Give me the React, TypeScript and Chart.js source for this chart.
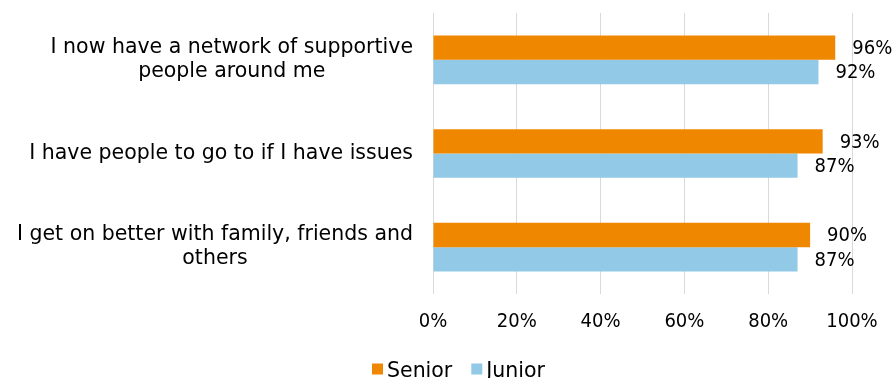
import React, { useEffect, useRef } from "react";
import { Chart, registerables } from "chart.js";

Chart.register(...registerables);

const categories: string[][] = [
  ["I now have a network of supportive", "people around me"],
  ["I have people to go to if I have issues"],
  ["I get on better with family, friends and", "others"],
];
const seriesNames = ["Senior", "Junior"];
const seniorValues = [96, 93, 90];
const juniorValues = [92, 87, 87];
const xTicks = [0, 20, 40, 60, 80, 100];

const ORANGE = "#F08700";
const BLUE = "#91C9E7";
const TEXT_FONT = "20.5px 'DejaVu Sans'";
const NUM_FAMILY = "'DejaVu Sans Condensed', 'DejaVu Sans'";
const NUM_FONT = "20px " + NUM_FAMILY;

const labelsPlugin = {
  id: "customLabels",
  afterDraw(chart: any) {
    const ctx = chart.ctx;
    const area = chart.chartArea;
    const yScale = chart.scales.y;
    ctx.save();
    ctx.fillStyle = "#000";
    ctx.font = TEXT_FONT;
    categories.forEach((lines, i) => {
      const cy = yScale.getPixelForValue(i);
      const w = Math.max(...lines.map((l) => ctx.measureText(l).width));
      const cx = area.left - 20 - w / 2;
      const lh = 24;
      ctx.textAlign = "center";
      ctx.textBaseline = "middle";
      lines.forEach((l, j) => {
        const y = cy + (j - (lines.length - 1) / 2) * lh;
        ctx.fillText(l, cx, y);
      });
    });
    ctx.font = NUM_FONT;
    chart.data.datasets.forEach((ds: any, di: number) => {
      const meta = chart.getDatasetMeta(di);
      meta.data.forEach((bar: any, i: number) => {
        ctx.textAlign = "left";
        ctx.textBaseline = "middle";
        ctx.fillText(ds.data[i] + "%", bar.x + 17, bar.y + 1);
      });
    });
    ctx.font = TEXT_FONT;
    let x = 372;
    const boxTop = 363.5;
    chart.data.datasets.forEach((ds: any) => {
      ctx.fillStyle = ds.backgroundColor;
      ctx.fillRect(x, boxTop, 11, 11);
      ctx.fillStyle = "#000";
      ctx.textAlign = "left";
      ctx.textBaseline = "alphabetic";
      ctx.fillText(ds.label, x + 15, 376.5);
      x += 15 + ctx.measureText(ds.label).width + 19;
    });
    ctx.restore();
  },
};

export default function App() {
  const ref = useRef<HTMLCanvasElement | null>(null);
  useEffect(() => {
    if (!ref.current) return;
    const chart = new Chart(ref.current, {
      type: "bar",
      data: {
        labels: categories.map((c) => c.join(" ")),
        datasets: [
          {
            label: seriesNames[0],
            data: seniorValues,
            backgroundColor: ORANGE,
            categoryPercentage: 0.52,
            barPercentage: 1,
          },
          {
            label: seriesNames[1],
            data: juniorValues,
            backgroundColor: BLUE,
            categoryPercentage: 0.52,
            barPercentage: 1,
          },
        ],
      },
      options: {
        indexAxis: "y",
        animation: false,
        responsive: true,
        maintainAspectRatio: false,
        layout: { padding: { left: 433, right: 43, top: 13, bottom: 28 } },
        plugins: {
          legend: { display: false },
          tooltip: { enabled: false },
        },
        scales: {
          y: { display: false },
          x: {
            min: 0,
            max: 100,
            afterBuildTicks: (s: any) => {
              s.ticks = xTicks.map((v) => ({ value: v }));
            },
            grid: { color: "#D9D9D9", lineWidth: 1, drawTicks: false },
            border: { display: false },
            ticks: {
              padding: 16,
              color: "#000",
              font: { family: NUM_FAMILY, size: 20 },
              callback: (v: any) => v + "%",
            },
          },
        },
      },
      plugins: [labelsPlugin],
    });
    return () => chart.destroy();
  }, []);
  return (
    <div style={{ position: "absolute", left: 0, top: 0, width: 895, height: 378, background: "#fff" }}>
      <canvas ref={ref} />
    </div>
  );
}
